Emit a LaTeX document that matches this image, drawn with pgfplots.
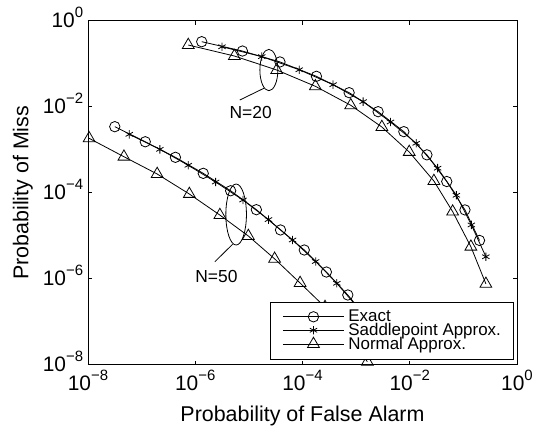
\documentclass[border=0pt]{standalone}
\usepackage{fontspec}
\setmainfont{Liberation Sans}
\usepackage{pgfplots}
\pgfplotsset{compat=1.18}
\newcommand{\tp}[1]{10\smash{\raisebox{10bp}{\fontsize{15}{15}\selectfont #1}}}
\begin{document}
\begin{tikzpicture}
\begin{axis}[
  at={(0,0)}, anchor=south west,
  scale only axis, width=429bp, height=344bp,
  xmode=log, ymode=log,
  xmin=1e-8, xmax=1, ymin=1e-8, ymax=1,
  xtick={1e-8,1e-6,1e-4,1e-2,1}, ytick={1e-8,1e-6,1e-4,1e-2,1},
  xticklabels={\tp{−8},\tp{−6},\tp{−4},\tp{−2},\tp{0}},
  yticklabels={\tp{−8},\tp{−6},\tp{−4},\tp{−2},\tp{0}},
  xminorticks=false, yminorticks=false,
  tick pos=both, tick align=inside, major tick length=4bp,
  axis line style={line width=0.8bp},
  every tick/.style={black, line width=0.8bp},
  ticklabel style={font=\fontsize{21}{21}\selectfont, inner sep=0pt},
  xticklabel style={anchor=north, yshift=-11bp},
  yticklabel style={anchor=east, xshift=-4.7bp},
  xlabel={Probability of False Alarm},
  ylabel={Probability of Miss},
  label style={font=\fontsize{21.5}{21.5}\selectfont, inner sep=0pt},
  xlabel style={at={(axis description cs:0.5,-0.1637)}, anchor=base},
  ylabel style={at={(axis description cs:-0.1392,0.5)}, anchor=base, rotate=0},
  legend style={at={(rel axis cs:0.9914,0.0157)}, anchor=south east,
    draw=black, line width=0.8bp, fill=white,
    font=\fontsize{17}{13.3}\selectfont,
    inner xsep=12bp, inner ysep=8bp, row sep=0pt,
    nodes={inner sep=0pt},
    /tikz/every odd column/.append style={column sep=4bp}},
  legend cell align=left,
  legend image code/.code={\draw[mark repeat=2,mark phase=2,#1] plot coordinates {(0bp,0bp) (30.5bp,0bp) (61bp,0bp)};},
  every axis plot/.append style={black, line width=0.8bp, mark options={solid, line width=0.8bp}},
]
% N = 20
\addplot[mark=o, mark size=5.2bp] coordinates {
(1.32e-6,0.325) (7.59e-6,0.197) (3.80e-5,0.110) (1.82e-4,0.0509) (7.41e-4,0.0212)
(2.57e-3,7.66e-3) (7.76e-3,2.63e-3) (0.0209,7.59e-4) (0.0490,1.82e-4) (0.107,3.98e-5) (0.200,7.76e-6)};
\addlegendentry{Exact}
\addplot[mark=asterisk, mark size=4.2bp] coordinates {
(3.16e-6,0.248) (1.74e-5,0.146) (8.71e-5,0.0724) (3.72e-4,0.0325) (1.35e-3,0.0131)
(4.37e-3,4.41e-3) (0.0132,1.41e-3) (0.0331,3.72e-4) (0.0741,8.71e-5) (0.141,1.78e-5) (0.263,3.24e-6)};
\addlegendentry{Saddlepoint Approx.}
\addplot[mark=triangle, mark size=6.8bp] coordinates {
(7.41e-7,0.272) (5.37e-6,0.151) (3.31e-5,0.0713) (1.74e-4,0.0298) (7.94e-4,0.0108)
(3.02e-3,3.37e-3) (9.77e-3,8.85e-4) (0.0282,1.87e-4) (0.0631,3.63e-5) (0.138,5.55e-6) (0.263,7.59e-7)};
\addlegendentry{Normal Approx.}
% N = 50
\addplot[forget plot, mark=o, mark size=5.2bp] coordinates {
(3.16e-8,3.43e-3) (1.17e-7,1.53e-3) (4.27e-7,6.65e-4) (1.41e-6,2.82e-4) (4.57e-6,1.11e-4)
(1.38e-5,4.03e-5) (3.89e-5,1.36e-5) (1.08e-4,4.65e-6) (2.79e-4,1.43e-6) (7.00e-4,4.18e-7)
(1.66e-3,1.12e-7) (3.80e-3,2.82e-8)};
\addplot[forget plot, mark=asterisk, mark size=4.2bp] coordinates {
(5.89e-8,2.28e-3) (2.19e-7,1.02e-3) (7.41e-7,4.34e-4) (2.40e-6,1.77e-4) (7.76e-6,6.76e-5)
(2.32e-5,2.37e-5) (6.53e-5,7.94e-6) (1.76e-4,2.51e-6) (4.37e-4,7.82e-7)
(1.05e-3,2.19e-7) (2.40e-3,5.62e-8)};
\addplot[forget plot, mark=triangle, mark size=6.8bp] coordinates {
(1.05e-8,1.84e-3) (4.68e-8,6.87e-4) (1.95e-7,2.72e-4) (7.76e-7,9.33e-5) (2.88e-6,3.02e-5)
(9.77e-6,9.84e-6) (3.02e-5,2.90e-6) (9.02e-5,7.94e-7) (2.63e-4,2.19e-7) (6.92e-4,5.37e-8) (1.62e-3,1.17e-8)};
% annotations
\draw[line width=0.8bp] (axis cs:2.36e-5,0.0713) ellipse (9bp and 20.7bp);
\draw[line width=0.8bp] (axis cs:1.905e-5,0.0268) -- (axis cs:6.79e-6,0.01432);
\node[font=\fontsize{17.5}{17.5}\selectfont, inner sep=0pt] at (axis cs:1.08e-5,7.33e-3) {N=20};
\draw[line width=0.8bp] (axis cs:5.79e-6,3.11e-5) ellipse (10.3bp and 30.5bp);
\draw[line width=0.8bp] (axis cs:4.97e-6,6.31e-6) -- (axis cs:2.32e-6,2.48e-6);
\node[font=\fontsize{17.5}{17.5}\selectfont, inner sep=0pt] at (axis cs:2.49e-6,1.11e-6) {N=50};
\end{axis}
\pgfresetboundingbox
\path[use as bounding box] (-88bp,-67.3bp) rectangle (446bp,364.7bp);
\end{tikzpicture}
\end{document}
